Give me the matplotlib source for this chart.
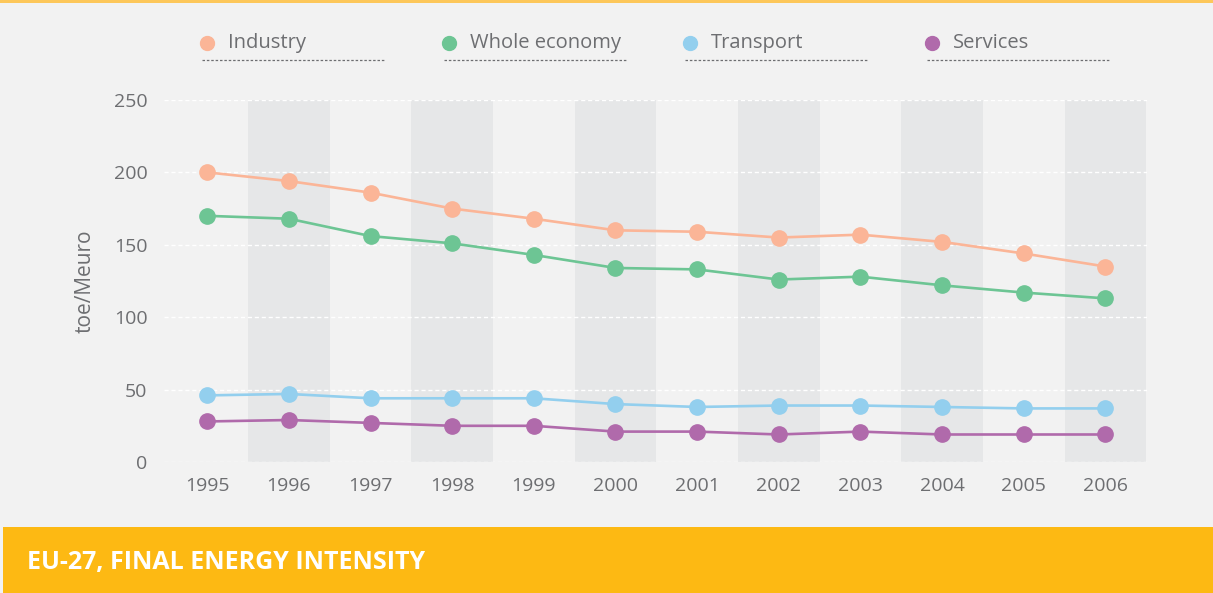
import matplotlib.pyplot as plt
from matplotlib.patches import Rectangle
from matplotlib.lines import Line2D

years = list(range(1995, 2007))
industry = [200, 194, 186, 175, 168, 160, 159, 155, 157, 152, 144, 135]
whole_economy = [170, 168, 156, 151, 143, 134, 133, 126, 128, 122, 117, 113]
transport = [46, 47, 44, 44, 44, 40, 38, 39, 39, 38, 37, 37]
services = [28, 29, 27, 25, 25, 21, 21, 19, 21, 19, 19, 19]
series_names = ['Industry', 'Whole economy', 'Transport', 'Services']
y_ticks = [0, 50, 100, 150, 200, 250]

colors = ['#fbb597', '#6dc594', '#93cfee', '#b06aab']
grey = '#6d6e71'
plt.rcParams['font.family'] = ['Open Sans', 'DejaVu Sans']

fig = plt.figure(figsize=(12.13, 5.93), dpi=100)
fig.patch.set_facecolor('#f2f2f2')
ax = fig.add_axes([0.1352, 0.2209, 0.8104, 0.6105])
ax.set_facecolor('#f2f2f2')

# alternating shaded year columns
for yr in years[1::2]:
    ax.axvspan(yr - 0.5, yr + 0.5, color='#e6e7e8', zorder=0, lw=0)

for v in y_ticks:
    ax.axhline(v, color='white', lw=1, ls=(0, (3, 2)), zorder=1)

for vals, c in zip([industry, whole_economy, transport, services], colors):
    ax.plot(years, vals, color=c, lw=1.9, marker='o', markersize=11,
            zorder=3, clip_on=False)

ax.set_xlim(1994.47, 2006.51)
ax.set_ylim(0, 250)
ax.set_xticks(years)
ax.set_yticks(y_ticks)
ax.tick_params(length=0, labelsize=14, colors=grey)
ax.tick_params(axis='y', pad=12)
ax.tick_params(axis='x', pad=11)
for s in ax.spines.values():
    s.set_visible(False)
ax.set_ylabel('toe/Meuro', fontsize=15, color=grey, labelpad=13)

# legend drawn across the top
legend_x = [202, 444, 685, 927]
for x0, name, c in zip(legend_x, series_names, colors):
    fx = x0 / 1213
    fig.add_artist(Line2D([fx + 5 / 1213], [1 - 43 / 593], marker='o', markersize=10,
                          color=c, transform=fig.transFigure))
    fig.text(fx + 26 / 1213, 1 - 43 / 593, name, fontsize=14.5, color=grey,
             va='center', ha='left')
    fig.add_artist(Line2D([fx, fx + 183 / 1213], [1 - 60 / 593] * 2, color=grey,
                          lw=0.9, ls=(0, (2, 1.5)), transform=fig.transFigure))

# top rule and bottom title band
fig.add_artist(Rectangle((0, 1 - 2.5 / 593), 1, 2.5 / 593, color='#fdc75a',
                         transform=fig.transFigure, lw=0))
fig.add_artist(Rectangle((3 / 1213, 0), 1, 66 / 593, color='#fdb913',
                         transform=fig.transFigure, lw=0))
fig.text(27 / 1213, 1 - 562 / 593, 'EU-27, FINAL ENERGY INTENSITY', fontsize=18,
         fontweight='bold', color='white', va='center', ha='left')

fig.savefig('out.png', dpi=100, facecolor=fig.get_facecolor())
